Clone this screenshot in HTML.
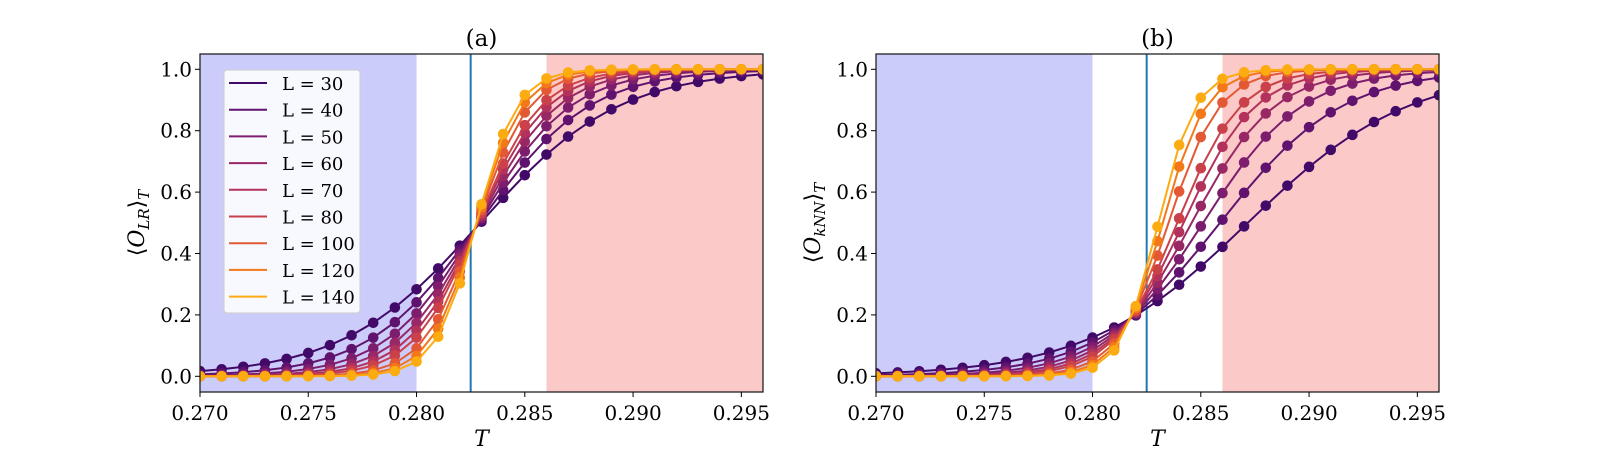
<!DOCTYPE html>
<html><head><meta charset="utf-8"><style>
html,body{margin:0;padding:0;background:#fff;}
svg text{font-family:"DejaVu Serif","Liberation Serif",serif;fill:#000;}
</style></head><body>
<svg id="s" width="1600" height="450" xmlns="http://www.w3.org/2000/svg"></svg>
<script>
const S=document.getElementById('s');const NS='http://www.w3.org/2000/svg';
function el(t,a,txt){const e=document.createElementNS(NS,t);for(const k in a)e.setAttribute(k,a[k]);if(txt!==undefined)e.textContent=txt;S.appendChild(e);return e;}
const Ls=[30,40,50,60,70,80,100,120,140];
const cols=['#420a68','#5f136e','#7c1d6d','#982766','#b3325b','#cb4149','#e35933','#f37819','#fcab10'];
function atanh(x){return 0.5*Math.log((1+x)/(1-x));}
function panel(L0,title,sub,Tstar,ystar,a30,p){
  const top=54,bot=392,R=L0+563;
  const X=t=>L0+(t-0.270)/0.026*563;
  const Y=v=>376.3-v*307;
  el('rect',{x:L0,y:top,width:X(0.280)-L0,height:bot-top,fill:'#ccccfa'});
  el('rect',{x:X(0.286),y:top,width:R-X(0.286),height:bot-top,fill:'#fcc9c9'});
  el('line',{x1:X(0.2825),x2:X(0.2825),y1:top,y2:bot,stroke:'#1f77b4','stroke-width':2});
  const g=atanh(2*ystar-1);
  const cp=el('clipPath',{id:'c'+L0});
  const cr=document.createElementNS(NS,'rect');cr.setAttribute('x',L0);cr.setAttribute('y',top);cr.setAttribute('width',563);cr.setAttribute('height',bot-top);cp.appendChild(cr);
  Ls.forEach((L,i)=>{
    const a=a30*Math.pow(L/30,p);const T0=Tstar-g/a;
    let pts=[];for(let k=0;k<=26;k++){const t=0.270+k*0.001;const v=0.5*(1+Math.tanh(a*(t-T0)));pts.push([X(t),Y(v)]);}
    const gg=el('g',{'clip-path':'url(#c'+L0+')'});
    const pl=document.createElementNS(NS,'polyline');pl.setAttribute('points',pts.map(q=>q[0].toFixed(1)+','+q[1].toFixed(1)).join(' '));
    pl.setAttribute('fill','none');pl.setAttribute('stroke',cols[i]);pl.setAttribute('stroke-width',2);gg.appendChild(pl);
    pts.forEach(q=>{const c=document.createElementNS(NS,'circle');c.setAttribute('cx',q[0]);c.setAttribute('cy',q[1]);c.setAttribute('r',5.3);c.setAttribute('fill',cols[i]);gg.appendChild(c);});
  });
  el('rect',{x:L0,y:top,width:563,height:bot-top,fill:'none',stroke:'#222','stroke-width':1.3});
  [0.270,0.275,0.280,0.285,0.290,0.295].forEach(t=>{el('line',{x1:X(t),x2:X(t),y1:bot,y2:bot+5,stroke:'#000'});el('text',{x:X(t),y:bot+28,'text-anchor':'middle','font-size':20},t.toFixed(3));});
  [0,0.2,0.4,0.6,0.8,1.0].forEach(v=>{el('line',{x1:L0-5,x2:L0,y1:Y(v),y2:Y(v),stroke:'#000'});el('text',{x:L0-8,y:Y(v)+7,'text-anchor':'end','font-size':20},v.toFixed(1));});
  el('text',{x:(L0+R)/2,y:46,'text-anchor':'middle','font-size':23},title);
  el('text',{x:(L0+R)/2,y:446,'text-anchor':'middle','font-size':22,'font-style':'italic'},'T');
  const yl=el('text',{transform:'translate('+(L0-56)+',223) rotate(-90)','text-anchor':'middle','font-size':22});
  yl.innerHTML='⟨<tspan font-style="italic">O</tspan><tspan font-style="italic" font-size="15" dy="5">'+sub+'</tspan><tspan dy="-5">⟩</tspan><tspan font-style="italic" font-size="15" dy="5">T</tspan>';
}
panel(200,'(a)','LR',0.2827,0.48,157,0.8);
panel(876,'(b)','kNN',0.2818,0.19,135,0.95);
el('rect',{x:224,y:70,width:136,height:243,rx:3,fill:'#fff','fill-opacity':0.85,stroke:'#ccc'});
Ls.forEach((L,i)=>{const y=83+i*26.7;el('line',{x1:229,x2:267,y1:y,y2:y,stroke:cols[i],'stroke-width':2});el('text',{x:282,y:y+7,'font-size':18},'L = '+L);});
</script>
</body></html>
